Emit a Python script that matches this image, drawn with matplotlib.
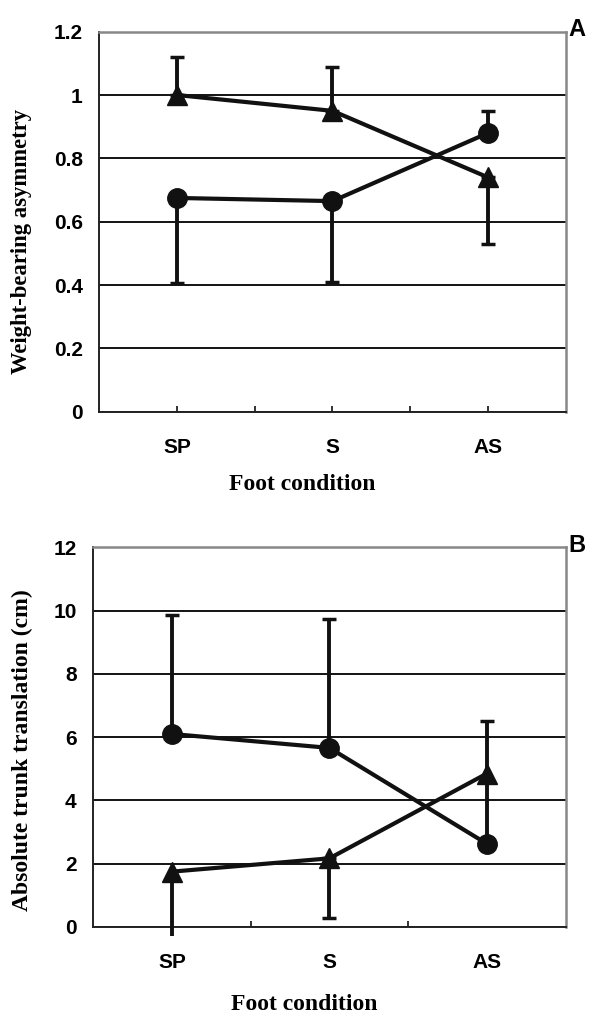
import matplotlib
matplotlib.use("Agg")
import matplotlib.pyplot as plt
import numpy as np

categories = ["SP", "S", "AS"]

# Panel A: weight-bearing asymmetry
a_tri = [1.00, 0.95, 0.74]
a_tri_up = [0.12, 0.14, 0.00]
a_tri_dn = [0.00, 0.00, 0.21]
a_circ = [0.675, 0.665, 0.88]
a_circ_up = [0.00, 0.00, 0.07]
a_circ_dn = [0.27, 0.255, 0.00]

# Panel B: absolute trunk translation (cm)
b_circ = [6.10, 5.66, 2.63]
b_circ_up = [3.75, 4.07, 0.00]
b_circ_dn = [0.00, 0.00, 0.00]
b_tri = [1.75, 2.17, 4.85]
b_tri_up = [0.00, 0.00, 1.66]
b_tri_dn = [2.05, 1.87, 2.20]

sans = "Liberation Sans"
serif = "Liberation Serif"
ink = "#111111"

fig = plt.figure(figsize=(6.15, 10.16), dpi=100)

def style_axes(ax, ymax, ystep, fmt, major_ticks=True):
    ax.set_xlim(0, 3)
    ax.set_ylim(0, ymax)
    vals = np.arange(0, ymax + ystep / 2, ystep)
    ax.set_yticks(vals)
    ax.set_yticklabels([fmt(v) for v in vals],
                       fontfamily=sans, fontweight="bold", fontsize=15)
    ax.set_xticks([0.5, 1.5, 2.5])
    ax.set_xticklabels(categories, fontfamily=sans, fontweight="bold", fontsize=15)
    ax.set_xticks([1.0, 2.0], minor=True)
    ax.tick_params(axis="y", length=0, pad=12)
    ax.tick_params(axis="x", which="major", direction="in",
                   length=4 if major_ticks else 0, width=1.2, pad=19, color=ink)
    ax.tick_params(axis="x", which="minor", direction="in", length=4, width=1.2, color=ink)
    ax.grid(axis="y", color="black", linewidth=1.3)
    ax.set_axisbelow(True)
    for s in ("left", "bottom"):
        ax.spines[s].set_color("#222222")
        ax.spines[s].set_linewidth(1.4)
    for s in ("top", "right"):
        ax.spines[s].set_color("#888888")
        ax.spines[s].set_linewidth(1.8)

def draw_series(ax, x, y, up, dn, marker, ms, cap_mask=None):
    x = np.asarray(x, float); y = np.asarray(y, float)
    up = np.asarray(up, float); dn = np.asarray(dn, float)
    if cap_mask is None:
        cap_mask = np.ones(len(x), bool)
    cap_mask = np.asarray(cap_mask, bool)
    for mask, cs in ((cap_mask, 5), (~cap_mask, 0)):
        if mask.any():
            ax.errorbar(x[mask], y[mask], yerr=[dn[mask], up[mask]], fmt="none",
                        ecolor=ink, elinewidth=2.8, capsize=cs, capthick=2.5,
                        zorder=3, clip_on=False)
    ax.plot(x, y, color=ink, linewidth=3.0, marker=marker, markersize=ms,
            markerfacecolor=ink, markeredgecolor=ink, zorder=4, clip_on=False)

xpos = np.array([0.5, 1.5, 2.5])

# Panel A
axA = fig.add_axes([0.1615, 0.5948, 0.7583, 0.374])
style_axes(axA, 1.2, 0.2, lambda v: "0" if abs(v) < 1e-9 else ("1" if abs(v - 1) < 1e-9 else f"{v:.1f}"))
draw_series(axA, xpos, a_tri, a_tri_up, a_tri_dn, "^", 15)
draw_series(axA, xpos, a_circ, a_circ_up, a_circ_dn, "o", 14)
fig.text(22 / 615, 1 - 241 / 1016, "Weight-bearing asymmetry", fontfamily=serif,
         fontweight="bold", fontsize=16.3, rotation=90, ha="center", va="center")
fig.text(302 / 615, 1 - 485 / 1016, "Foot condition", fontfamily=serif, fontweight="bold",
         fontsize=17, ha="center", va="center")
fig.text(577 / 615, 1 - 30 / 1016, "A", fontfamily=sans, fontweight="bold",
         fontsize=17, ha="center", va="center")

# Panel B
axB = fig.add_axes([0.1517, 0.0876, 0.768, 0.3737])
style_axes(axB, 12, 2, lambda v: f"{int(round(v))}", major_ticks=False)
draw_series(axB, xpos, b_circ, b_circ_up, b_circ_dn, "o", 14)
draw_series(axB, xpos, b_tri, b_tri_up, b_tri_dn, "^", 15, cap_mask=[False, True, True])
fig.text(22 / 615, 1 - 750 / 1016, "Absolute trunk translation (cm)", fontfamily=serif,
         fontweight="bold", fontsize=17, rotation=90, ha="center", va="center")
fig.text(304 / 615, 1 - 1005 / 1016, "Foot condition", fontfamily=serif, fontweight="bold",
         fontsize=17, ha="center", va="center")
fig.text(577 / 615, 1 - 545 / 1016, "B", fontfamily=sans, fontweight="bold",
         fontsize=17, ha="center", va="center")

fig.savefig("out.png", dpi=100)
